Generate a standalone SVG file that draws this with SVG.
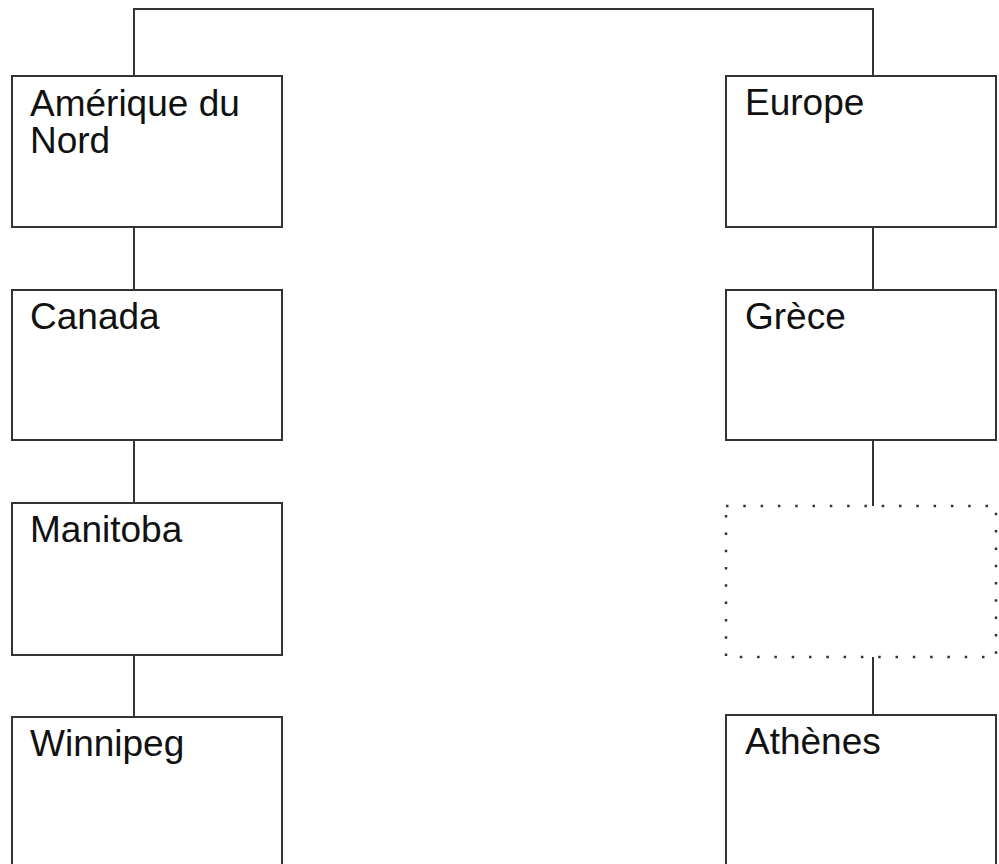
<svg xmlns="http://www.w3.org/2000/svg" width="999" height="864" viewBox="0 0 999 864">
<style>
.box{fill:#fff;stroke:#333;stroke-width:2}
.dot{fill:#fff;stroke:#333;stroke-width:2.5;stroke-dasharray:2.5 14.8}
.lbl{font-family:"Liberation Sans",Arial,sans-serif;font-size:37px;fill:#111}
.c{fill:none;stroke:#333;stroke-width:2}
</style>
<rect width="999" height="864" fill="#fff"/>
<g id="connectors">
<path class="c" d="M134,76V9H873V76"/>
<path class="c" d="M134,227V290"/>
<path class="c" d="M134,440V503"/>
<path class="c" d="M134,655V717"/>
<path class="c" d="M873,227V290"/>
<path class="c" d="M873,440V506"/>
<path class="c" d="M873,657V715"/>
</g>
<g id="amerique"><rect class="box" x="12" y="76" width="270" height="151"/><text class="lbl" x="30" y="116">Amérique du</text><text class="lbl" x="30" y="153">Nord</text></g>
<g id="canada"><rect class="box" x="12" y="290" width="270" height="150"/><text class="lbl" x="30" y="329">Canada</text></g>
<g id="manitoba"><rect class="box" x="12" y="503" width="270" height="152"/><text class="lbl" x="30" y="542">Manitoba</text></g>
<g id="winnipeg"><rect class="box" x="12" y="717" width="270" height="152"/><text class="lbl" x="30" y="756">Winnipeg</text></g>
<g id="europe"><rect class="box" x="726" y="76" width="270" height="151"/><text class="lbl" x="745" y="115">Europe</text></g>
<g id="grece"><rect class="box" x="726" y="290" width="270" height="150"/><text class="lbl" x="745" y="329">Grèce</text></g>
<g id="empty"><rect class="dot" x="726" y="506" width="270" height="151"/></g>
<g id="athenes"><rect class="box" x="726" y="715" width="270" height="152"/><text class="lbl" x="745" y="754">Athènes</text></g>
</svg>
